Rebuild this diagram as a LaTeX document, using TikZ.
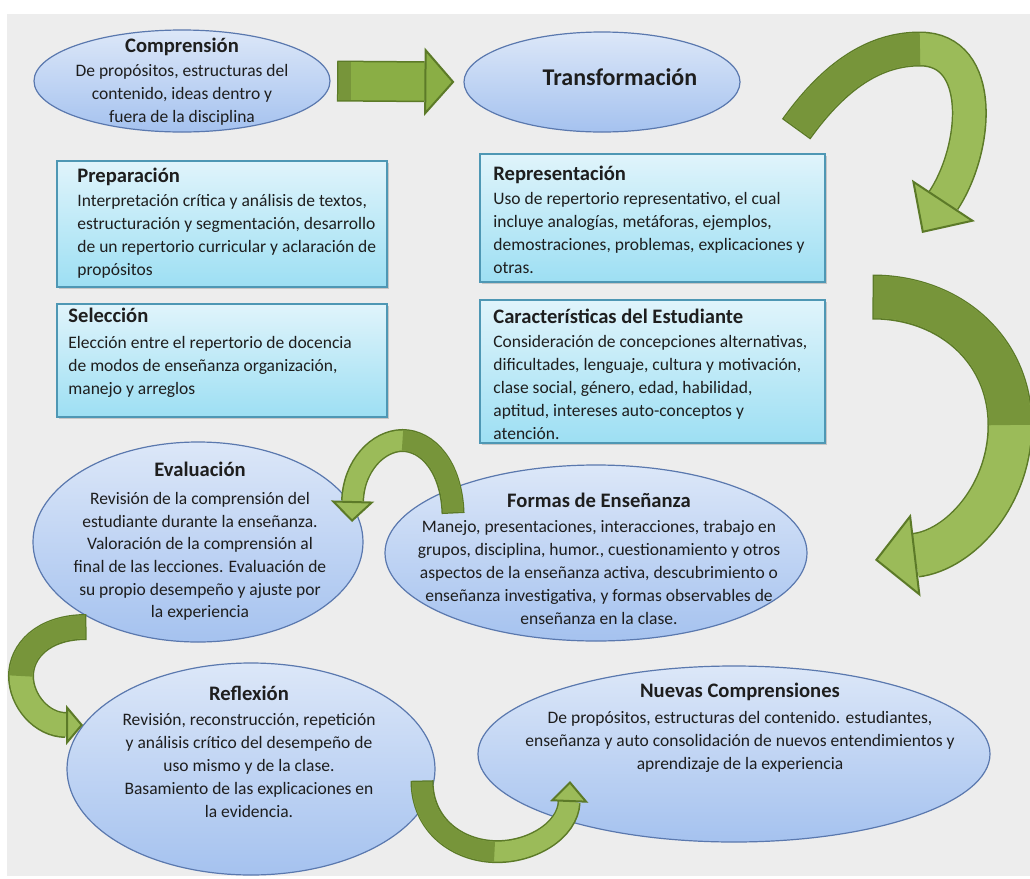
\documentclass[tikz,border=0pt]{standalone}
\usepackage{fontspec}
\setmainfont{Carlito}
\usetikzlibrary{arrows.meta,shapes,shadows}
\definecolor{fondo}{HTML}{EDEDED}
\definecolor{azulclaro}{HTML}{DCE7F8}
\definecolor{azul}{HTML}{A5C2EF}
\definecolor{bordeazul}{HTML}{5A78AE}
\definecolor{cianclaro}{HTML}{E0F4FB}
\definecolor{cian}{HTML}{9DDFF3}
\definecolor{bordecian}{HTML}{4E97B4}
\definecolor{verdeclaro}{HTML}{9BBB59}
\definecolor{verdeoscuro}{HTML}{77953A}
\definecolor{verdemedio}{HTML}{8AAE45}
\definecolor{verdeborde}{HTML}{5C7A28}
\definecolor{tinta}{HTML}{1E1E1E}
\def\cuerpo{\fontsize{8.75pt}{11.5pt}\selectfont}
\def\titulo#1{{\fontsize{10.3pt}{11.5pt}\selectfont\bfseries #1}}
\newcommand{\flecha}[5]{%
\draw[verdeborde, line width=#1+1.5pt, shorten >=#3, shorten <=-0.75pt] #4 #5;
\draw[verdeclaro, line width=#1, -{Triangle[length=#3, width=#2, line width=1pt, color=verdeborde, fill=verdeclaro]}] #4 #5;
\draw[verdeoscuro, line width=#1] #4;}

\begin{document}
\begin{tikzpicture}[elipse/.style={ellipse, draw=bordeazul, line width=0.6pt, top color=azulclaro, bottom color=azul, inner sep=0pt}, caja/.style={rectangle, draw=bordecian, line width=0.6pt, top color=cianclaro, bottom color=cian, inner sep=0pt, drop shadow={shadow xshift=1.2pt, shadow yshift=-1.2pt, opacity=0.35}}, texto/.style={inner sep=0pt, text=tinta, font=\cuerpo}]
\useasboundingbox (0pt, 0pt) rectangle (515pt, -439.5pt);
\fill[fondo] (3.5pt, -7pt) rectangle (515pt, -438pt);
\draw (111.0pt, -112.0pt)node[caja, minimum width=165pt, minimum height=63pt](prep){};
\draw (111.0pt, -180.25pt)node[caja, minimum width=165pt, minimum height=56.5pt](sel){};
\draw (326.25pt, -109.0pt)node[caja, minimum width=172.5pt, minimum height=64pt](rep){};
\draw (326.25pt, -185.75pt)node[caja, minimum width=172.5pt, minimum height=71.5pt](car){};
\draw (91.0pt, -40.5pt)node[elipse, minimum width=148pt, minimum height=51pt](comp){};
\draw (301.0pt, -41.0pt)node[elipse, minimum width=138pt, minimum height=50pt](trans){};
\draw (99.0pt, -271.0pt)node[elipse, minimum width=165pt, minimum height=100pt](eval){};
\draw (298.0pt, -276.5pt)node[elipse, minimum width=211pt, minimum height=88pt](formas){};
\draw (125.5pt, -384.5pt)node[elipse, minimum width=184pt, minimum height=106pt](refl){};
\draw (367.0pt, -377.0pt)node[elipse, minimum width=256pt, minimum height=88pt](nuevas){};
\coordinate (f2a) at (398.5pt, -64.0pt);
\coordinate (f2m) at (460.0pt, -24.5pt);
\coordinate (f2b) at (461.0pt, -116.5pt);
\coordinate (f3a) at (437.0pt, -148.5pt);
\coordinate (f3m) at (505.0pt, -212.5pt);
\coordinate (f3b) at (437.5pt, -280.0pt);
\coordinate (f4a) at (226.5pt, -256.0pt);
\coordinate (f4m) at (201.25pt, -220.25pt);
\coordinate (f4b) at (176.0pt, -261.0pt);
\coordinate (f5a) at (42.5pt, -313.5pt);
\coordinate (f5m) at (10.5pt, -338.0pt);
\coordinate (f5b) at (41.5pt, -362.5pt);
\coordinate (f6a) at (211.0pt, -391.0pt);
\coordinate (f6m) at (247.25pt, -425.8pt);
\coordinate (f6b) at (285.0pt, -390.5pt);
\draw[verdeborde, line width=20.5pt, shorten <=3.25pt, shorten >=19.5pt] (comp.east) -- (trans.west);
\draw[verdemedio, line width=19pt, shorten <=4pt, shorten >=4.5pt, -{Triangle[length=15pt, width=34pt, line width=1pt, color=verdeborde, fill=verdemedio]}] (comp.east) -- (trans.west);
\draw[verdeoscuro, line width=19pt, shorten <=4pt] (comp.east) -- ([xshift=10pt]comp.east);
\flecha{16pt}{37.5pt}{19.5pt}{(f2a) .. controls (417.5pt, -37.5pt) and (437.5pt, -24.5pt) .. (f2m)}{.. controls (492.5pt, -24.5pt) and (489.0pt, -74.0pt) .. (f2b)}
\flecha{21pt}{41.5pt}{20.5pt}{(f3a) .. controls (475.0pt, -148.5pt) and (505.0pt, -175.0pt) .. (f3m)}{.. controls (505.0pt, -247.5pt) and (480.0pt, -275.0pt) .. (f3b)}
\flecha{10pt}{21.5pt}{10.5pt}{(f4a) .. controls (225.75pt, -233.0pt) and (213.5pt, -220.25pt) .. (f4m)}{.. controls (189.0pt, -220.25pt) and (176.75pt, -233.0pt) .. (f4b)}
\flecha{11.5pt}{20pt}{8.5pt}{(f5a) .. controls (21.25pt, -313.5pt) and (10.5pt, -325.75pt) .. (f5m)}{.. controls (10.5pt, -350.25pt) and (20.75pt, -362.5pt) .. (f5b)}
\flecha{10pt}{19pt}{10.5pt}{(f6a) .. controls (211.0pt, -413.0pt) and (229.0pt, -425.25pt) .. (f6m)}{.. controls (265.5pt, -426.4pt) and (284.0pt, -415.25pt) .. (f6b)}
\draw (91.0pt, -41.0pt)node[texto, align=center](comptxt){\titulo{Comprensión}\\[0.5pt] De propósitos, estructuras del\\ contenido, ideas dentro y\\ fuera de la disciplina};
\draw (310.0pt, -38.5pt)node[texto, font=\fontsize{12pt}{14pt}\selectfont\bfseries](transtxt){Transformación};
\draw (38.5pt, -111.5pt)node[texto, align=left, anchor=west](preptxt){\titulo{Preparación}\\[0.5pt] Interpretación crítica y análisis de textos,\\ estructuración y segmentación, desarrollo\\ de un repertorio curricular y aclaración de\\ propósitos};
\draw (34.0pt, -176.5pt)node[texto, align=left, anchor=west](seltxt){\titulo{Selección}\\[1.5pt] Elección entre el repertorio de docencia\\ de modos de enseñanza organización,\\ manejo y arreglos};
\draw (246.5pt, -110.0pt)node[texto, align=left, anchor=west](reptxt){\titulo{Representación}\\[0.5pt] Uso de repertorio representativo, el cual\\ incluye analogías, metáforas, ejemplos,\\ demostraciones, problemas, explicaciones y\\ otras.};
\draw (246.5pt, -187.25pt)node[texto, align=left, anchor=west](cartxt){\titulo{Características del Estudiante}\\[0.5pt] Consideración de concepciones alternativas,\\ dificultades, lenguaje, cultura y motivación,\\ clase social, género, edad, habilidad,\\ aptitud, intereses auto-conceptos y\\ atención.};
\draw (100.0pt, -270.5pt)node[texto, align=center, font=\fontsize{8.75pt}{11.3pt}\selectfont](evaltxt){\titulo{Evaluación}\\[3pt] Revisión de la comprensión del\\ estudiante durante la enseñanza.\\ Valoración de la comprensión al\\ final de las lecciones. Evaluación de\\ su propio desempeño y ajuste por\\ la experiencia};
\draw (299.5pt, -279.25pt)node[texto, align=center](formastxt){\titulo{Formas de Enseñanza}\\[1pt] Manejo, presentaciones, interacciones, trabajo en\\ grupos, disciplina, humor., cuestionamiento y otros\\ aspectos de la enseñanza activa, descubrimiento o\\ enseñanza investigativa, y formas observables de\\ enseñanza en la clase.};
\draw (124.5pt, -375.75pt)node[texto, align=center](refltxt){\titulo{Reflexión}\\[1pt] Revisión, reconstrucción, repetición\\ y análisis crítico del desempeño de\\ uso mismo y de la clase.\\ Basamiento de las explicaciones en\\ la evidencia.};
\draw (370.0pt, -364.0pt)node[texto, align=center](nuevastxt){\titulo{Nuevas Comprensiones}\\[1.5pt] De propósitos, estructuras del contenido. estudiantes,\\ enseñanza y auto consolidación de nuevos entendimientos y\\ aprendizaje de la experiencia};
\end{tikzpicture}
\end{document}
